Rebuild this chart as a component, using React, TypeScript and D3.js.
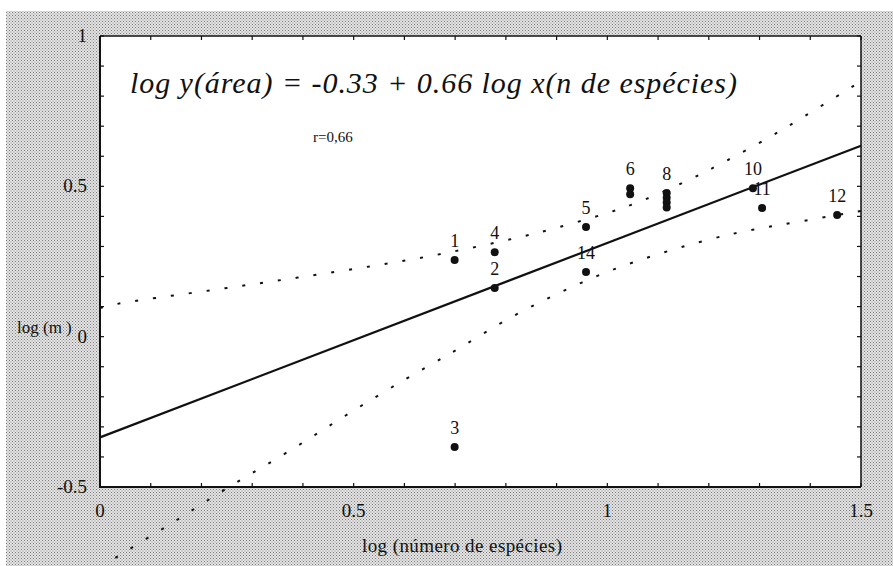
import React from 'react';
import * as d3 from 'd3';

// reference frame
const W = 893;
const H = 566;
const plot = { left: 100, right: 861, top: 36, bottom: 487 };

// axis ticks
const xTicks = [0, 0.5, 1, 1.5];
const xTickLabels = ['0', '0.5', '1', '1.5'];
const yTicks = [-0.5, 0, 0.5, 1];
const yTickLabels = ['-0.5', '0', '0.5', '1'];

// observations (log n species, log area)
const pointX = [0.699, 0.778, 0.699, 0.778, 0.958, 1.045, 1.045, 1.117, 1.117, 1.117, 1.117, 1.287, 1.305, 1.453, 0.958];
const pointY = [0.255, 0.162, -0.367, 0.281, 0.365, 0.494, 0.474, 0.478, 0.462, 0.446, 0.43, 0.494, 0.428, 0.405, 0.215];
const pointLabel = ['1', '2', '3', '4', '5', '6', '', '8', '', '', '', '10', '11', '12', '14'];

// fitted line, as drawn
const fitX = [0, 1.5];
const fitY = [-0.335, 0.635];

// confidence band
const upperX = [0, 0.035, 0.181, 0.325, 0.467, 0.611, 0.71, 0.822, 0.893, 1.0, 1.064, 1.163, 1.228, 1.325, 1.386, 1.478, 1.5];
const upperY = [0.095, 0.112, 0.145, 0.18, 0.216, 0.255, 0.287, 0.328, 0.358, 0.41, 0.447, 0.522, 0.578, 0.668, 0.73, 0.826, 0.85];
const lowerX = [0.03, 0.093, 0.152, 0.213, 0.276, 0.371, 0.463, 0.556, 0.65, 0.714, 0.804, 0.903, 0.999, 1.104, 1.208, 1.281, 1.386, 1.5];
const lowerY = [-0.736, -0.67, -0.61, -0.543, -0.477, -0.384, -0.284, -0.187, -0.094, -0.034, 0.062, 0.145, 0.218, 0.278, 0.328, 0.355, 0.385, 0.418];

const equation = 'log y(área) = -0.33 + 0.66 log x(n de espécies)';
const rText = 'r=0,66';
const xTitle = 'log (número de espécies)';
const yTitle = 'log (m )';

const serif = '"Liberation Serif", "Times New Roman", Times, serif';

export default function App() {
  const x = d3.scaleLinear().domain([0, 1.5]).range([plot.left, plot.right]);
  const y = d3.scaleLinear().domain([-0.5, 1]).range([plot.bottom, plot.top]);

  const line = d3.line<[number, number]>()
    .x(d => x(d[0]))
    .y(d => y(d[1]));
  const band = d3.line<[number, number]>()
    .x(d => x(d[0]))
    .y(d => y(d[1]))
    .curve(d3.curveBasis);

  const minorX = d3.range(0, 1.5001, 0.1);
  const minorY = d3.range(-0.5, 1.0001, 0.1);

  const fitPath = line(fitX.map((v, i) => [v, fitY[i]]) as [number, number][]);
  const upperPath = band(upperX.map((v, i) => [v, upperY[i]]) as [number, number][]);
  const lowerPath = band(lowerX.map((v, i) => [v, lowerY[i]]) as [number, number][]);

  return (
    <svg width={W} height={H} style={{ position: 'absolute', left: 0, top: 0, background: '#fff', fontFamily: serif }}>
      <defs>
        <pattern id="stipple" width="3" height="3" patternUnits="userSpaceOnUse">
          <rect width="3" height="3" fill="#e4e4e4" />
          <rect x="0" y="0" width="1" height="1" fill="#7a7a7a" />
          <rect x="1.5" y="1.5" width="1" height="1" fill="#8a8a8a" />
        </pattern>
      </defs>
      <rect x={6} y={11} width={W - 6} height={H - 11} fill="url(#stipple)" />
      <rect x={plot.left} y={plot.top} width={plot.right - plot.left} height={plot.bottom - plot.top} fill="#fff" />

      {/* minor ticks, inward on all sides */}
      {minorX.map((v, i) => (
        <g key={'mx' + i} stroke="#111" strokeWidth={1.2}>
          <line x1={x(v)} x2={x(v)} y1={plot.bottom} y2={plot.bottom - 4} />
          <line x1={x(v)} x2={x(v)} y1={plot.top} y2={plot.top + 4} />
        </g>
      ))}
      {minorY.map((v, i) => (
        <g key={'my' + i} stroke="#111" strokeWidth={1.2}>
          <line x1={plot.left} x2={plot.left + 4} y1={y(v)} y2={y(v)} />
          <line x1={plot.right} x2={plot.right - 4} y1={y(v)} y2={y(v)} />
        </g>
      ))}

      {/* frame */}
      <line x1={plot.left} x2={plot.right} y1={plot.top} y2={plot.top} stroke="#111" strokeWidth={1.5} />
      <line x1={plot.right} x2={plot.right} y1={plot.top} y2={plot.bottom} stroke="#111" strokeWidth={1.5} />
      <line x1={plot.left} x2={plot.left} y1={plot.top} y2={plot.bottom + 1} stroke="#111" strokeWidth={2} />
      <line x1={plot.left} x2={plot.right} y1={plot.bottom} y2={plot.bottom} stroke="#111" strokeWidth={2} />

      {/* tick labels */}
      {xTicks.map((v, i) => (
        <text key={'xt' + i} x={x(v)} y={517} textAnchor="middle" fontSize={19} fill="#111" fontFamily={serif}>{xTickLabels[i]}</text>
      ))}
      {yTicks.map((v, i) => (
        <text key={'yt' + i} x={87} y={y(v) + 6} textAnchor="end" fontSize={19} fill="#111" fontFamily={serif}>{yTickLabels[i]}</text>
      ))}

      {/* confidence band */}
      <path d={upperPath || ''} fill="none" stroke="#111" strokeWidth={2} strokeDasharray="3,15" />
      <path d={lowerPath || ''} fill="none" stroke="#111" strokeWidth={2} strokeDasharray="3,15" />

      {/* regression line */}
      <path d={fitPath || ''} fill="none" stroke="#111" strokeWidth={2.2} />

      {/* points */}
      {pointX.map((v, i) => (
        <circle key={'p' + i} cx={x(v)} cy={y(pointY[i])} r={4} fill="#111" />
      ))}
      {pointX.map((v, i) => pointLabel[i] ? (
        <text key={'pl' + i} x={x(v)} y={y(pointY[i]) - 13} textAnchor="middle" fontSize={18} fill="#111" fontFamily={serif}>{pointLabel[i]}</text>
      ) : null)}

      {/* annotations */}
      <text x={130} y={93} fontSize={30} fontStyle="italic" fill="#111" fontFamily={serif} textLength={607} lengthAdjust="spacing">{equation}</text>
      <text x={313} y={142} fontSize={15} fill="#111" fontFamily={serif}>{rText}</text>

      {/* axis titles */}
      <text x={362} y={552} fontSize={19} fill="#111" fontFamily={serif} textLength={200} lengthAdjust="spacing">{xTitle}</text>
      <text x={17} y={333} fontSize={17} fill="#111" fontFamily={serif}>{yTitle}</text>
    </svg>
  );
}
